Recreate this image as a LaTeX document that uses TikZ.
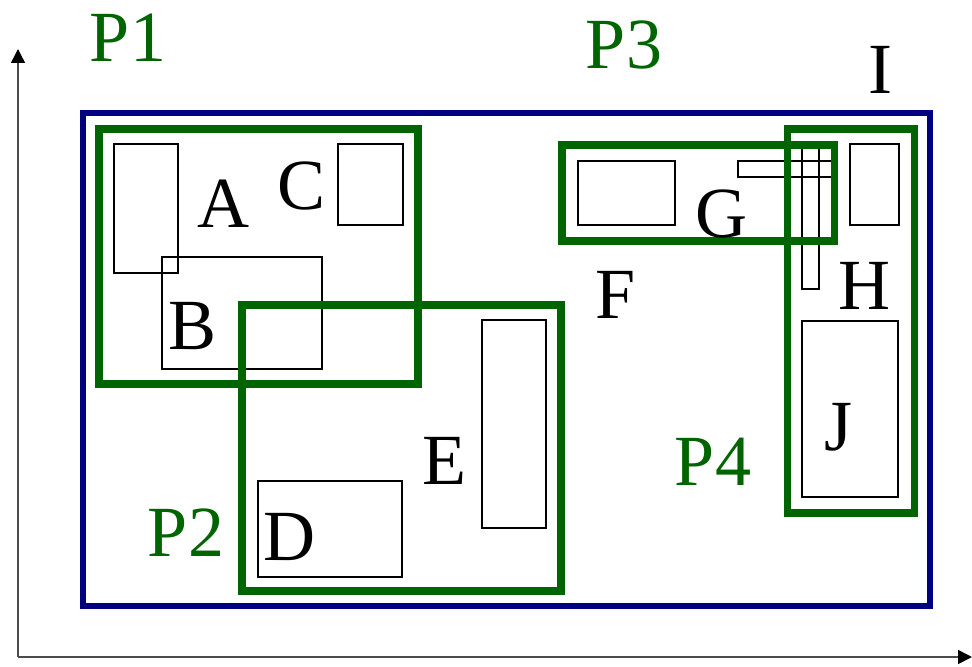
\documentclass[tikz,border=0pt]{standalone}
\usepackage{fontspec}
\setmainfont{Liberation Serif}
\usepackage{xcolor}
\usetikzlibrary{arrows.meta}
\definecolor{boundblue}{RGB}{0,0,128}
\definecolor{partgreen}{RGB}{0,100,0}
\tikzset{
  outerbox/.style={draw=boundblue, line width=3.4pt},
  partbox/.style={draw=partgreen, line width=4pt},
  itembox/.style={draw=black, line width=0.85pt},
  letter/.style={font=\fontsize{41}{41}\selectfont, inner sep=0pt},
  partlabel/.style={letter, text=partgreen},
  axis/.style={draw=black!70, line width=0.85pt, -{Triangle[length=0.28cm,width=0.28cm,color=black]}}
}

\begin{document}
\begin{tikzpicture}[x=0.02cm, y=-0.02cm]
\useasboundingbox (0,0) rectangle (972,666);

% axes
\coordinate (origin) at (18,657);
\coordinate (yend) at (18,49);
\coordinate (xend) at (972,657);
\draw[axis] (origin) -- (yend);
\draw[axis] (origin) -- (xend);

% whole area
\draw[outerbox] (83,113) rectangle (930,606);

% items
\draw[itembox] (114,144) rectangle (178,273);
\draw[itembox] (162,257) rectangle (322,369);
\draw[itembox] (338,144) rectangle (403,225);
\draw[itembox] (258,481) rectangle (402,577);
\draw[itembox] (482,320) rectangle (546,528);
\draw[itembox] (578,161) rectangle (675,225);
\draw[itembox] (738,161) rectangle (834,177);
\draw[itembox] (802,144) rectangle (819,289);
\draw[itembox] (850,144) rectangle (899,225);
\draw[itembox] (802,321) rectangle (898,497);

% partitions
\draw[partbox] (99,129) rectangle (418,384);
\draw[partbox] (242,305) rectangle (561,591);
\draw[partbox] (562,145) rectangle (834,241);
\draw[partbox] (787,129) rectangle (914,513);

% item labels
\node[letter] (la) at (224,204) {A};
\node[letter] (lb) at (193,326) {B};
\node[letter] (lc) at (302,186) {C};
\node[letter] (ld) at (290,537) {D};
\node[letter] (le) at (444,461) {E};
\node[letter] (lf) at (616,295) {F};
\node[letter] (lg) at (721,214) {G};
\node[letter] (lh) at (864,286) {H};
\node[letter] (li) at (880,70) {I};
\node[letter] (lj) at (838,427) {J};

% partition labels
\node[partlabel] (p1) at (128,38) {P1};
\node[partlabel] (p2) at (186,533) {P2};
\node[partlabel] (p3) at (624,45) {P3};
\node[partlabel] (p4) at (713,462) {P4};
\end{tikzpicture}
\end{document}
